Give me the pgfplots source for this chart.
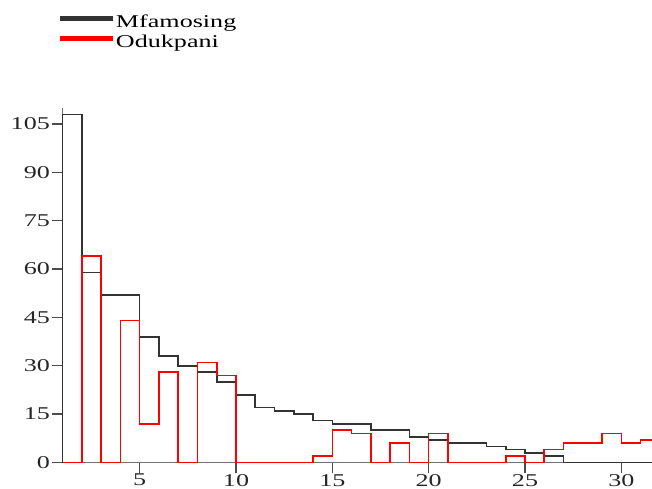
\documentclass[border=0pt]{standalone}
\usepackage{fontspec}
\setmainfont{Liberation Serif}[FakeStretch=1.45]
\usepackage{pgfplots}
\pgfplotsset{compat=1.18}
\begin{document}
\begin{tikzpicture}
\begin{axis}[
  at={(62.6bp,26.5bp)}, anchor=south west,
  scale only axis, width=589.4bp, height=354.6bp,
  xmin=1, xmax=31.59, ymin=0, ymax=110,
  enlargelimits=false, clip=false,
  axis x line=bottom, axis y line=left,
  axis line style={-, line width=1.6bp, color=black!55},
  xtick={5,10,15,20,25,30},
  ytick={0,15,30,45,60,75,90,105},
  minor tick num=0,
  tick align=outside, major tick length=10.5bp,
  tick style={line width=1.4bp, color=black!70},
  /pgf/number format/assume math mode=true,
  tick label style={font=\fontsize{18bp}{20bp}\selectfont, text=black!85},
  yticklabel style={inner sep=2bp},
  xticklabel style={inner sep=1bp},
  legend cell align=left,
  legend style={draw=none, fill=none, at={(axis description cs:-0.0095,1.2105)}, anchor=west,
    inner sep=0pt, outer sep=0pt,
    font=\fontsize{18bp}{20bp}\selectfont,
    nodes={inner sep=0.5bp, text height=13bp, text depth=4bp},
    row sep=2bp,
    /tikz/every even column/.append style={column sep=5bp}},
  legend image code/.code={\draw[#1, line width=5.5bp] (0bp,5bp) -- (53bp,5bp);},
]
\addplot[const plot, black!80, line width=1.6bp] coordinates {
(1,0) (1,108) (2,59) (3,52) (4,52) (5,39) (6,33) (7,30) (8,28) (9,25) (10,21)
(11,17) (12,16) (13,15) (14,13) (15,12) (16,12) (17,10) (18,10) (19,8) (20,7)
(21,6) (22,6) (23,5) (24,4) (25,3) (26,2) (27,0) (28,0) (29,0) (30,0) (31,0) (32,0)};
\addlegendentry{Mfamosing}
\addplot[const plot, red, line width=1.6bp] coordinates {
(1,0) (2,64) (3,0) (4,44) (5,12) (6,28) (7,0) (8,31) (9,27) (10,0)
(11,0) (12,0) (13,0) (14,2) (15,10) (16,9) (17,0) (18,6) (19,0) (20,9)
(21,0) (22,0) (23,0) (24,2) (25,0) (26,4) (27,6) (28,6) (29,9) (30,6) (31,7) (32,7)};
\addlegendentry{Odukpani}
\end{axis}
\pgfresetboundingbox
\useasboundingbox (0,0) rectangle (652bp,489bp);
\end{tikzpicture}
\end{document}
